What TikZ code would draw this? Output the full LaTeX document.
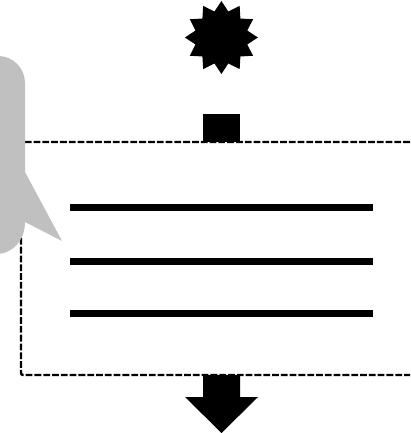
\documentclass[tikz,border=0pt]{standalone}
\usetikzlibrary{shapes.geometric}
\definecolor{bubblegray}{RGB}{192,192,192}
\tikzset{
  solidshape/.style={fill=black,draw=none},
  rulebar/.style={line width=7bp,black},
  frameline/.style={line width=2.4bp,black,dash pattern=on 6.8bp off 2bp},
}
\begin{document}
\begin{tikzpicture}[x=1bp,y=-1bp]
\useasboundingbox (0,0) rectangle (410,433);
\clip (0,0) rectangle (410,433);
% dashed frame
\coordinate (frameTL) at (21,142);
\coordinate (frameTR) at (410,142);
\coordinate (frameBL) at (21,375);
\coordinate (frameBR) at (410,375);
\draw[frameline,rounded corners=2bp] (frameTR) -- (frameTL) -- (frameBL) -- (frameBR);
% star
\node[star,star points=12,star point ratio=1.36,solidshape,minimum size=73bp,inner sep=0pt] (burst) at (221.4,37.5) {};
% small box
\fill[black] (203,114) rectangle (240,142);
% bars
\coordinate (a1) at (70,207.5); \coordinate (a2) at (373,207.5);
\coordinate (b1) at (70,261); \coordinate (b2) at (373,261);
\coordinate (c1) at (70,313.5); \coordinate (c2) at (373,313.5);
\draw[rulebar] (a1) -- (a2);
\draw[rulebar] (b1) -- (b2);
\draw[rulebar] (c1) -- (c2);
% speech bubble
\fill[bubblegray] (-30,56) -- (-2,56) .. controls (13,56) and (25,68) .. (25,83)
  -- (25,172) -- (62,241) -- (25,222)
  .. controls (25,240) and (13,254) .. (-4,254) -- (-30,254) -- cycle;
% down arrow
\fill[black] (203,375) -- (240,375) -- (240,397) -- (258,397) -- (221.5,433)
  -- (185,397) -- (203,397) -- cycle;
\end{tikzpicture}
\end{document}
